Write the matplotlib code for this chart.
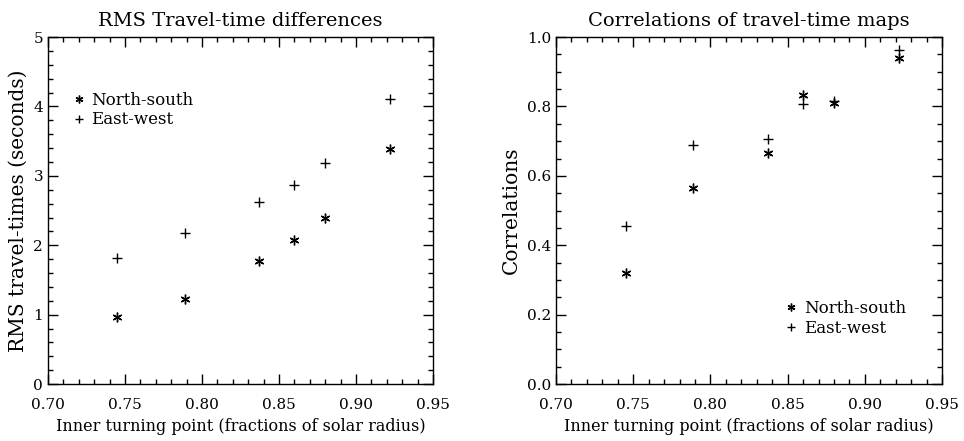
import matplotlib.pyplot as plt
from matplotlib.ticker import MultipleLocator

plt.rcParams["font.family"] = "DejaVu Serif"

turning_point = [0.745, 0.789, 0.837, 0.860, 0.880, 0.922]

rms_ns = [0.97, 1.23, 1.78, 2.07, 2.40, 3.39]
rms_ew = [1.81, 2.18, 2.63, 2.87, 3.19, 4.11]

corr_ns = [0.32, 0.566, 0.666, 0.832, 0.81, 0.94]
corr_ew = [0.455, 0.688, 0.705, 0.808, 0.815, 0.962]

xlabel = "Inner turning point (fractions of solar radius)"
star = (6, 2, 0)

fig = plt.figure(figsize=(9.64, 4.41), dpi=100)
ax1 = fig.add_axes([0.0498, 0.129, 0.3994, 0.787])
ax2 = fig.add_axes([0.5768, 0.129, 0.4004, 0.787])


def style(ax, ymajor, yminor):
    ax.set_xlim(0.70, 0.95)
    ax.xaxis.set_major_locator(MultipleLocator(0.05))
    ax.xaxis.set_minor_locator(MultipleLocator(0.01))
    ax.yaxis.set_major_locator(MultipleLocator(ymajor))
    ax.yaxis.set_minor_locator(MultipleLocator(yminor))
    ax.tick_params(which="both", direction="in", top=True, right=True,
                   labelsize=11, width=1)
    ax.tick_params(which="major", length=7)
    ax.tick_params(which="minor", length=3.5)
    ax.tick_params(axis="x", pad=10)
    ax.xaxis.set_major_formatter(lambda v, p: f"{v:.2f}")
    ax.set_xlabel(xlabel, fontsize=11.5, labelpad=4)
    for s in ax.spines.values():
        s.set_linewidth(1)


ax1.plot(turning_point, rms_ns, linestyle="none", marker=star, ms=7,
         mec="black", mew=1.0, label="North-south")
ax1.plot(turning_point, rms_ew, linestyle="none", marker="+", ms=7,
         mec="black", mew=1.0, label="East-west")
style(ax1, 1, 0.2)
ax1.set_ylim(0, 5)
ax1.yaxis.set_major_formatter(lambda v, p: f"{v:.0f}")
ax1.set_ylabel("RMS travel-times (seconds)", fontsize=14.5, labelpad=4)
ax1.set_title("RMS Travel-time differences", fontsize=14, pad=8)
ax1.legend(loc="upper left", bbox_to_anchor=(0.03, 0.885), frameon=False,
           fontsize=12, handlelength=0.5, handletextpad=0.5,
           labelspacing=0.15, markerscale=0.8)

ax2.plot(turning_point, corr_ns, linestyle="none", marker=star, ms=7,
         mec="black", mew=1.0, label="North-south")
ax2.plot(turning_point, corr_ew, linestyle="none", marker="+", ms=7,
         mec="black", mew=1.0, label="East-west")
style(ax2, 0.2, 0.05)
ax2.set_ylim(0, 1)
ax2.yaxis.set_major_formatter(lambda v, p: f"{v:.1f}")
ax2.set_ylabel("Correlations", fontsize=14.5, labelpad=4)
ax2.set_title("Correlations of travel-time maps", fontsize=14, pad=8)
ax2.legend(loc="upper left", bbox_to_anchor=(0.56, 0.285), frameon=False,
           fontsize=12, handlelength=0.5, handletextpad=0.5,
           labelspacing=0.15, markerscale=0.8)

fig.savefig("out.png", dpi=100)
